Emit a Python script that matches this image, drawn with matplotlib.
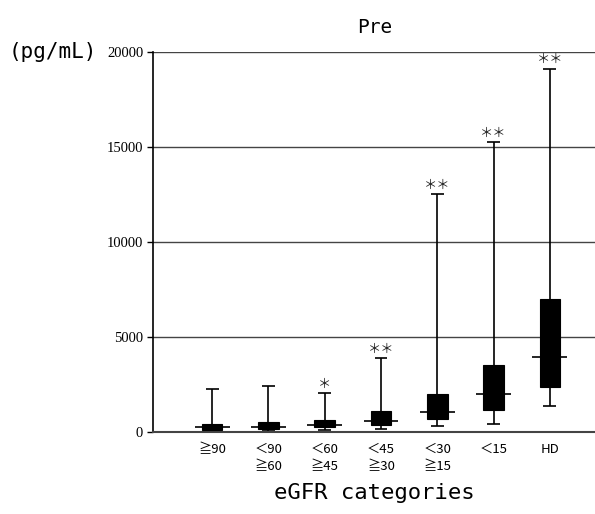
import matplotlib
matplotlib.use("Agg")
import matplotlib.pyplot as plt
import numpy as np

categories = ["≧90", "＜90\n≧60", "＜60\n≧45", "＜45\n≧30", "＜30\n≧15", "＜15", "HD"]
whisker_low = [60, 40, 90, 140, 315, 420, 1385]
q1 = [90, 175, 250, 350, 680, 1175, 2370]
median = [250, 250, 370, 580, 1035, 1985, 3950]
q3 = [420, 540, 650, 1090, 1980, 3510, 7000]
whisker_high = [2250, 2440, 2050, 3910, 12510, 15280, 19140]
significance = ["", "", "＊", "＊＊", "＊＊", "＊＊", "＊＊"]
yticks = [0, 5000, 10000, 15000, 20000]

fig = plt.figure(figsize=(5.95, 5.14), dpi=100)
ax = fig.add_axes([0.257, 0.1595, 0.743, 0.739])

pos = np.arange(1, len(categories) + 1)
ax.vlines(pos, whisker_low, whisker_high, colors="black", lw=1.2, zorder=2)
ax.hlines(whisker_low, pos - 0.115, pos + 0.115, colors="black", lw=1.2, zorder=2)
ax.hlines(whisker_high, pos - 0.115, pos + 0.115, colors="black", lw=1.2, zorder=2)
ax.bar(pos, np.array(q3) - np.array(q1), bottom=q1, width=0.37,
       color="black", edgecolor="black", lw=0.8, zorder=3)
ax.hlines(median, pos - 0.31, pos + 0.31, colors="black", lw=1.2, zorder=4)

for p, h, s in zip(pos, whisker_high, significance):
    if s:
        ax.annotate(s, (p, h), xytext=(0, 1.5), textcoords="offset points",
                    ha="center", va="bottom", fontsize=9.5,
                    family=["Noto Sans CJK JP", "DejaVu Sans"], color="#222222")

ax.set_xlim(-0.05, 7.8)
ax.set_ylim(0, 20000)
ax.set_yticks(yticks)
ax.set_yticklabels([str(v) for v in yticks], family="Liberation Serif", fontsize=10.5)
ax.yaxis.grid(True, color="#444444", lw=1.0)
ax.set_axisbelow(True)
ax.tick_params(axis="y", direction="out", length=4, width=1, pad=3)

ax.set_xticks(pos)
ax.set_xticklabels(categories, family=["Noto Sans CJK JP", "DejaVu Sans"],
                   fontsize=9.5, linespacing=1.45, va="top")
ax.tick_params(axis="x", length=0, pad=8)

for side in ["top", "right"]:
    ax.spines[side].set_visible(False)
ax.spines["left"].set_linewidth(1.2)
ax.spines["bottom"].set_linewidth(1.5)
ax.spines["bottom"].set_color("#444444")

fig.text(0.629, 0.947, "Pre", ha="center", va="center", fontsize=14,
         family="DejaVu Sans Mono")
fig.text(0.089, 0.898, "(pg/mL)", ha="center", va="center", fontsize=15,
         family="DejaVu Sans Mono")
fig.text(0.629, 0.04, "eGFR categories", ha="center", va="center", fontsize=16,
         family="DejaVu Sans Mono")

fig.savefig("out.png", dpi=100)
